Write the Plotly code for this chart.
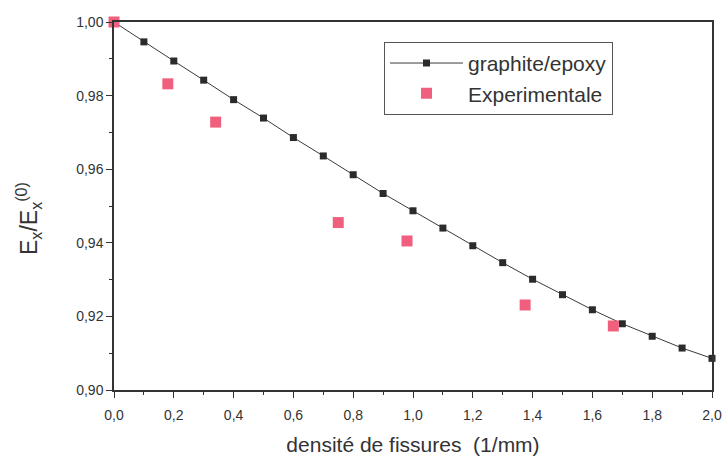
import plotly.graph_objects as go

# Model curve (graphite/epoxy)
model_x = [0.0, 0.1, 0.2, 0.3, 0.4, 0.5, 0.6, 0.7, 0.8, 0.9, 1.0,
           1.1, 1.2, 1.3, 1.4, 1.5, 1.6, 1.7, 1.8, 1.9, 2.0]
model_y = [1.000, 0.9946, 0.9894, 0.9842, 0.9789, 0.9739, 0.9686, 0.9636, 0.9585, 0.9534, 0.9487,
           0.9440, 0.9392, 0.9346, 0.9301, 0.9259, 0.9218, 0.9180, 0.9146, 0.9114, 0.9086]

# Experimental points
exp_x = [0.0, 0.18, 0.34, 0.75, 0.98, 1.375, 1.67]
exp_y = [1.000, 0.9832, 0.9728, 0.9455, 0.9405, 0.9231, 0.9174]

x_ticks = [0.0, 0.2, 0.4, 0.6, 0.8, 1.0, 1.2, 1.4, 1.6, 1.8, 2.0]
y_ticks = [0.90, 0.92, 0.94, 0.96, 0.98, 1.00]

FONT = "Liberation Sans, Arial, sans-serif"
TXT = "#333333"

fig = go.Figure()
fig.add_trace(go.Scatter(
    x=model_x, y=model_y, mode="lines+markers", name="graphite/epoxy",
    line=dict(color="#3a3a3a", width=1),
    marker=dict(symbol="square", size=7, color="#2b2b2b"),
    cliponaxis=False,
))
fig.add_trace(go.Scatter(
    x=exp_x, y=exp_y, mode="markers", name="Experimentale",
    marker=dict(symbol="square", size=11, color="#f0607e"),
    cliponaxis=False,
))

fig.update_layout(
    width=728, height=457,
    margin=dict(l=114, r=16, t=22, b=67),
    paper_bgcolor="white", plot_bgcolor="white",
    separators=", ",
    font=dict(family=FONT, color=TXT, size=14),
    showlegend=True,
    legend=dict(
        x=0.4515, y=0.946, xanchor="left", yanchor="top",
        bordercolor="#555555", borderwidth=1, bgcolor="white",
        font=dict(family=FONT, size=21, color=TXT),
        itemwidth=73,
        tracegroupgap=0,
    ),
    xaxis=dict(
        range=[0, 2.0], tickvals=x_ticks, tickformat=".1f",
        showgrid=False, zeroline=False, automargin=False,
        showline=True, linecolor="#333333", linewidth=1.5, mirror=True,
        ticks="outside", ticklen=6, tickcolor="#333333",
        ticklabelstandoff=5,
        minor=dict(dtick=0.1, ticks="outside", ticklen=3, tickcolor="#333333"),
        tickfont=dict(size=14, color=TXT),
        title=dict(text="densité de fissures  (1/mm)", font=dict(size=21, color=TXT), standoff=16),
    ),
    yaxis=dict(
        range=[0.90, 1.00], tickvals=y_ticks, tickformat=".2f",
        showgrid=False, zeroline=False, automargin=False,
        showline=True, linecolor="#333333", linewidth=1.5, mirror=True,
        ticks="outside", ticklen=6, tickcolor="#333333",
        minor=dict(dtick=0.01, ticks="outside", ticklen=3, tickcolor="#333333"),
        tickfont=dict(size=14, color=TXT),
    ),
    annotations=[dict(
        text="E<sub>x</sub>/E<sub>x</sub><sup>(0)</sup>",
        xref="paper", yref="paper", x=-0.1438, y=0.4647,
        xanchor="center", yanchor="middle", textangle=-90, showarrow=False,
        font=dict(family=FONT, size=23, color=TXT),
    )],
)

fig.write_html("out.html")
